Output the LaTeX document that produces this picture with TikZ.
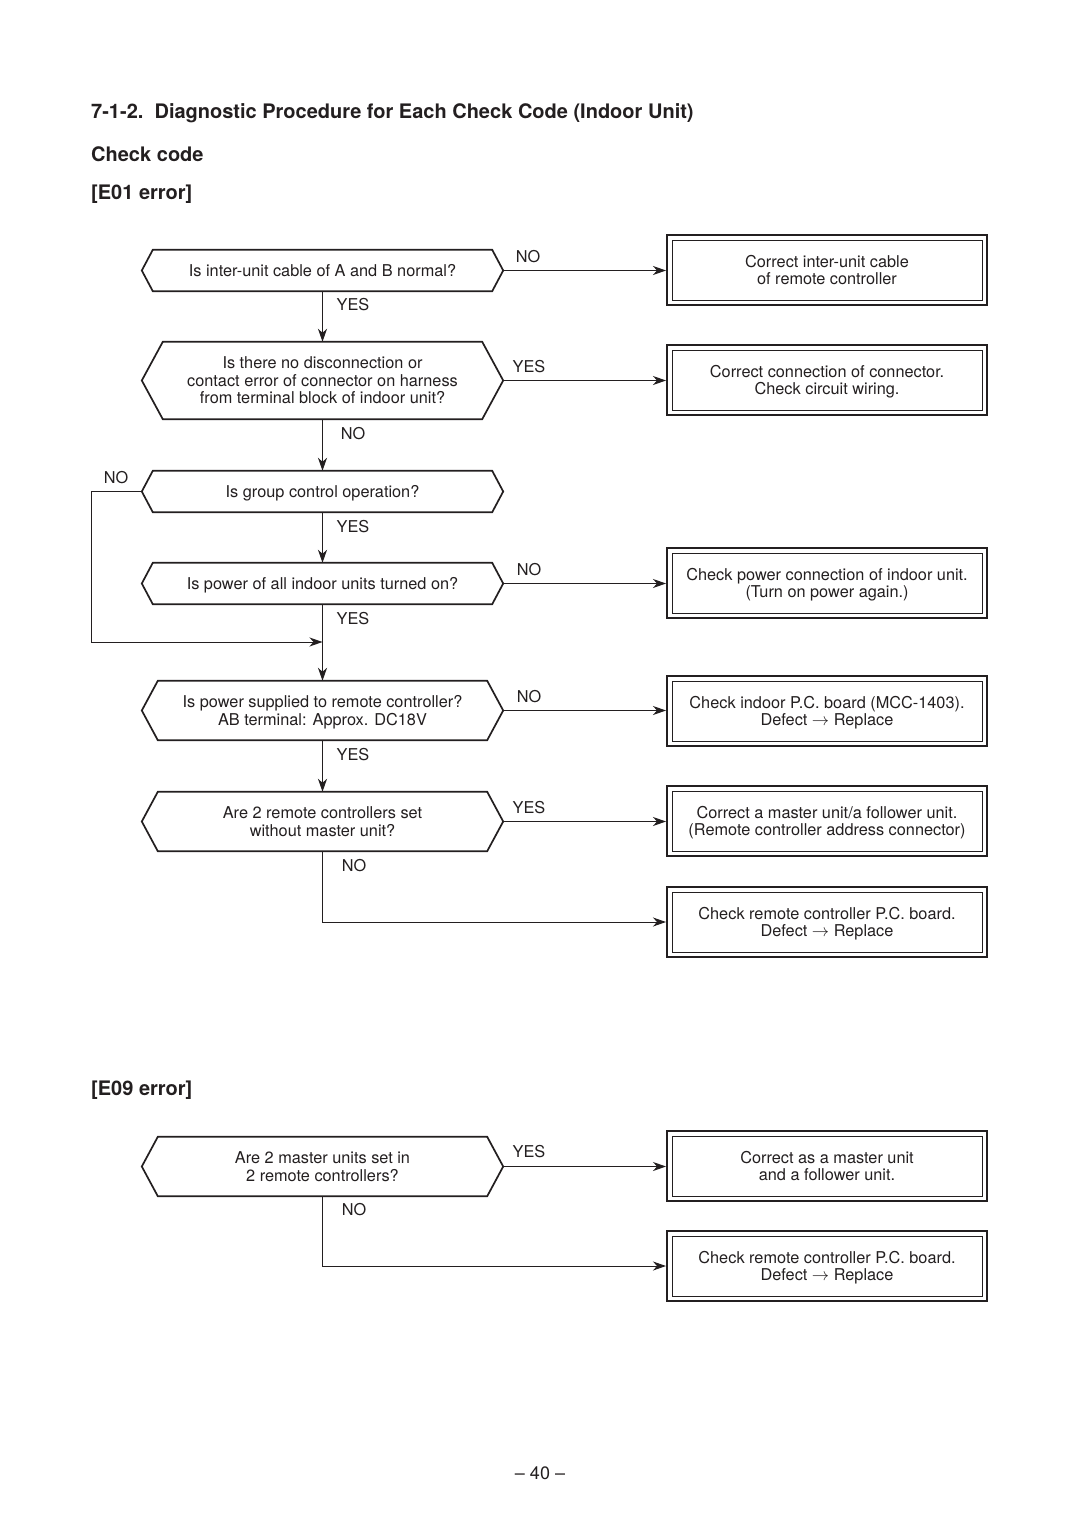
\documentclass[tikz,border=0pt]{standalone}
\usepackage{fontspec}
\setmainfont{TeX Gyre Heros}
\usetikzlibrary{arrows.meta}
\definecolor{ink}{HTML}{231F20}
\newcommand\hexout[2]{\draw[hexline] (#1.west) -- ([xshift=#2pt]#1.north west) -- ([xshift=-#2pt]#1.north east) -- (#1.east) -- ([xshift=-#2pt]#1.south east) -- ([xshift=#2pt]#1.south west) -- cycle;}
\newcommand\innerbox[1]{\draw[innerline] ([shift={(6,6)}]#1.north west) rectangle ([shift={(-6,-6)}]#1.south east);}
\begin{document}
\begin{tikzpicture}[x=1pt,y=-1pt,
  base/.style={font=\fontsize{16.3}{17.5}\selectfont, text=ink},
  head/.style={font=\fontsize{20}{24}\selectfont\bfseries, text=ink, anchor=west, inner sep=0pt},
  dec/.style={base, minimum width=361pt, inner sep=0pt, align=center, text depth=0pt},
  act/.style={base, draw=ink, line width=2pt, minimum width=320pt, minimum height=70pt, inner sep=0pt, align=center, text depth=0pt},
  lbl/.style={base, inner sep=0pt},
  hexline/.style={draw=ink, line width=1.7pt, line join=miter},
  innerline/.style={draw=ink, line width=0.9pt},
  conn/.style={draw=ink, line width=1pt},
  arr/.style={conn, -{Stealth[length=13pt,width=9pt,inset=4pt]}}]
\useasboundingbox (0,0) rectangle (1080,1525);
\fill[white] (0,0) rectangle (1080,1525);

% headings
\node[head] (title) at (91,113) {7-1-2.\ \ Diagnostic Procedure for Each Check Code (Indoor Unit)};
\node[head] (cc) at (91,154) {Check code};
\node[head] (e01) at (91,194) {[E01 error]};
\node[head] (e09) at (91,1090) {[E09 error]};
\node[base, font=\fontsize{18}{20}\selectfont] (page) at (540,1473) {-- 40 --};

% decisions
\node[dec, minimum height=41pt] (d1) at (322.5,270.5) {Is inter-unit cable of A and B normal?};
\hexout{d1}{11}
\node[dec, minimum height=77pt] (d2) at (322.5,380.5) {Is there no disconnection or\\contact error of connector on harness\\from terminal block of indoor unit?};
\hexout{d2}{21}
\node[dec, minimum height=41pt] (d3) at (322.5,491.5) {Is group control operation?};
\hexout{d3}{11}
\node[dec, minimum height=41pt] (d4) at (322.5,583.5) {Is power of all indoor units turned on?};
\hexout{d4}{11}
\node[dec, minimum height=59pt] (d5) at (322.5,710.5) {Is power supplied to remote controller?\\AB terminal: Approx. DC18V};
\hexout{d5}{16}
\node[dec, minimum height=59pt] (d6) at (322.5,821.5) {Are 2 remote controllers set\\without master unit?};
\hexout{d6}{16}
\node[dec, minimum height=59pt] (d7) at (322.5,1166.5) {Are 2 master units set in\\2 remote controllers?};
\hexout{d7}{16}

% actions
\node[act] (a1) at (827,270) {Correct inter-unit cable\\of remote controller};
\innerbox{a1}
\node[act] (a2) at (827,380) {Correct connection of connector.\\Check circuit wiring.};
\innerbox{a2}
\node[act] (a3) at (827,583) {Check power connection of indoor unit.\\(Turn on power again.)};
\innerbox{a3}
\node[act] (a4) at (827,711) {Check indoor P.C. board (MCC-1403).\\Defect $\rightarrow$ Replace};
\innerbox{a4}
\node[act] (a5) at (827,821) {Correct a master unit/a follower unit.\\(Remote controller address connector)};
\innerbox{a5}
\node[act] (a6) at (827,922) {Check remote controller P.C. board.\\Defect $\rightarrow$ Replace};
\innerbox{a6}
\node[act] (a7) at (827,1166) {Correct as a master unit\\and a follower unit.};
\innerbox{a7}
\node[act] (a8) at (827,1266) {Check remote controller P.C. board.\\Defect $\rightarrow$ Replace};
\innerbox{a8}

% connectors
\draw[arr] (d1.east) -- (d1.east -| a1.west);
\draw[arr] (d2.east) -- (d2.east -| a2.west);
\draw[arr] (d4.east) -- (d4.east -| a3.west);
\draw[arr] (d5.east) -- (d5.east -| a4.west);
\draw[arr] (d6.east) -- (d6.east -| a5.west);
\draw[arr] (d7.east) -- (d7.east -| a7.west);
\draw[arr] (d1.south) -- (d2.north);
\draw[arr] (d2.south) -- (d3.north);
\draw[arr] (d3.south) -- (d4.north);
\draw[arr] (d4.south) -- (d5.north);
\draw[arr] (d5.south) -- (d6.north);
\coordinate (loopx) at (91,642);
\coordinate (j) at (322.5,642);
\draw[arr] (d3.west) -| (loopx) -- (j);
\draw[arr] (d6.south) |- (a6.west);
\draw[arr] (d7.south) |- (a8.west);

% labels
\node[lbl] (l1) at (528,257) {NO};
\node[lbl] (l2) at (353,305) {YES};
\node[lbl] (l3) at (529,367) {YES};
\node[lbl] (l4) at (353,434) {NO};
\node[lbl] (l5) at (116,478) {NO};
\node[lbl] (l6) at (353,527) {YES};
\node[lbl] (l7) at (529,570) {NO};
\node[lbl] (l8) at (353,619) {YES};
\node[lbl] (l9) at (529,697) {NO};
\node[lbl] (l10) at (353,755) {YES};
\node[lbl] (l11) at (529,808) {YES};
\node[lbl] (l12) at (354,866) {NO};
\node[lbl] (l13) at (529,1152) {YES};
\node[lbl] (l14) at (354,1210) {NO};
\end{tikzpicture}
\end{document}
